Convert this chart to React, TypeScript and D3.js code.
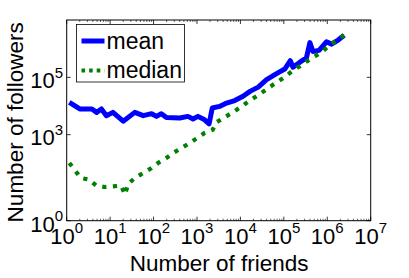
import React from "react";
import * as d3 from "d3";

// (log-log)
const meanFriends = [1.15, 2.0, 3.8, 4.9, 6.3, 8.2, 11.6, 20, 37, 58, 90, 117, 151, 198, 400, 620, 810, 1050, 1500, 1900, 2250, 3300, 4800, 7400, 11500, 16600, 25700, 40000, 68000, 105000, 141000, 162000, 234000, 331000, 398000, 468000, 646000, 955000, 1260000, 1780000, 2450000];
const meanFollowers = [13400, 7900, 7900, 6000, 7900, 4600, 6000, 2950, 6000, 4600, 5400, 4350, 5400, 4000, 3800, 4350, 3550, 4350, 3300, 2400, 8500, 9700, 12700, 15500, 22000, 32400, 45700, 83000, 135000, 195000, 380000, 225000, 339000, 479000, 1620000, 800000, 870000, 1740000, 1440000, 2000000, 2950000];

const medianFriends = [1.15, 1.55, 2.1, 3.3, 4.8, 7.5, 11.3, 18, 22, 26, 37, 58, 90, 127, 198, 283, 440, 690, 1000, 1500, 2300, 2800, 4050, 6300, 9400, 13700, 20300, 30000, 45600, 69900, 106000, 152000, 228000, 337000, 523000, 780000, 1100000, 1620000, 2450000];
const medianFollowers = [103, 57, 31, 27, 16.6, 15, 15.8, 16.6, 8.1, 19, 31, 46, 69, 103, 155, 230, 345, 515, 760, 1150, 1480, 2700, 3800, 5700, 8500, 12700, 19000, 28000, 44300, 68500, 103000, 162000, 241000, 361000, 540000, 806000, 1260000, 1940000, 2950000];

const xTickExps = [0, 1, 2, 3, 4, 5, 6, 7];
const yTickExps = [0, 3, 5];
const seriesNames = ["mean", "median"];

const FONT = "'Liberation Sans', Arial, Helvetica, sans-serif";

export default function App() {
  const W = 409, H = 278;
  const margin = { left: 66.7, right: 38.3, top: 20, bottom: 57.3 };
  const x0 = margin.left, x1 = W - margin.right;
  const y0 = H - margin.bottom, y1 = margin.top;

  const x = d3.scaleLog().domain([1, 1e7]).range([x0, x1]);
  const y = d3.scaleLog().domain([1, 1e7]).range([y0, y1]);

  const line = d3.line<[number, number]>().x(d => x(d[0])).y(d => y(d[1]));
  const meanPath = line(meanFriends.map((f, i) => [f, meanFollowers[i]]));
  const medianPath = line(medianFriends.map((f, i) => [f, medianFollowers[i]]));

  const minor: number[] = [];
  for (let e = 0; e < 7; e++) for (let k = 2; k <= 9; k++) minor.push(k * Math.pow(10, e));

  return (
    <svg width={W} height={H} style={{ position: "absolute", left: 0, top: 0, background: "#fff" }} fontFamily={FONT}>
      <defs>
        <clipPath id="plotclip">
          <rect x={x0} y={y1} width={x1 - x0} height={y0 - y1} />
        </clipPath>
      </defs>
      <g clipPath="url(#plotclip)">
        <path d={meanPath || ""} fill="none" stroke="#0000ff" strokeWidth={5} strokeLinejoin="round" />
        <path d={medianPath || ""} fill="none" stroke="#008000" strokeWidth={4.2} strokeDasharray="4.2,6.5" />
      </g>

      {/* frame */}
      <rect x={x0} y={y1} width={x1 - x0} height={y0 - y1} fill="none" stroke="#000" strokeWidth={1} />

      {/* x ticks */}
      {xTickExps.map(e => (
        <g key={"xt" + e}>
          <line x1={x(Math.pow(10, e))} x2={x(Math.pow(10, e))} y1={y0} y2={y0 - 4} stroke="#000" strokeWidth={0.8} />
          <line x1={x(Math.pow(10, e))} x2={x(Math.pow(10, e))} y1={y1} y2={y1 + 4} stroke="#000" strokeWidth={0.8} />
          <text x={x(Math.pow(10, e))} y={y0 + 23.2} textAnchor="middle" fontSize={22}>
            10<tspan dy={-10.5} fontSize={15}>{e}</tspan>
          </text>
        </g>
      ))}
      {minor.map((v, i) => (
        <g key={"xm" + i}>
          <line x1={x(v)} x2={x(v)} y1={y0} y2={y0 - 2} stroke="#000" strokeWidth={0.6} />
          <line x1={x(v)} x2={x(v)} y1={y1} y2={y1 + 2} stroke="#000" strokeWidth={0.6} />
        </g>
      ))}

      {/* y ticks */}
      {yTickExps.map(e => (
        <g key={"yt" + e}>
          <line x1={x0} x2={x0 + 4} y1={y(Math.pow(10, e))} y2={y(Math.pow(10, e))} stroke="#000" strokeWidth={0.8} />
          <line x1={x1} x2={x1 - 4} y1={y(Math.pow(10, e))} y2={y(Math.pow(10, e))} stroke="#000" strokeWidth={0.8} />
          <text x={x0 - 3.5} y={y(Math.pow(10, e)) + 10.8} textAnchor="end" fontSize={22}>
            10<tspan dy={-10.5} fontSize={15}>{e}</tspan>
          </text>
        </g>
      ))}

      {/* axis labels */}
      <text x={(x0 + x1) / 2 + 0.5} y={270.5} textAnchor="middle" fontSize={22.5}>Number of friends</text>
      <text transform={`translate(23,${(y0 + y1) / 2 + 2}) rotate(-90)`} textAnchor="middle" fontSize={22.5}>Number of followers</text>

      {/* legend */}
      <rect x={76.5} y={24.5} width={108} height={57.5} fill="#fff" stroke="#000" strokeWidth={0.8} />
      <line x1={81.5} x2={104.5} y1={41} y2={41} stroke="#0000ff" strokeWidth={5} />
      <line x1={81.5} x2={104.5} y1={70.5} y2={70.5} stroke="#008000" strokeWidth={4.2} strokeDasharray="3.6,4" />
      <text x={106.5} y={48.5} fontSize={23}>{seriesNames[0]}</text>
      <text x={106.5} y={77.5} fontSize={23}>{seriesNames[1]}</text>
    </svg>
  );
}
